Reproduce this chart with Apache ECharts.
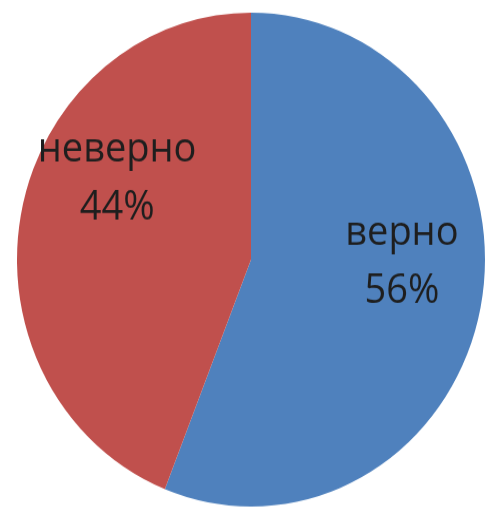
<!DOCTYPE html>
<html><head><meta charset="utf-8">
<script src="https://cdn.jsdelivr.net/npm/echarts@6/dist/echarts.min.js"></script>
<style>
html,body{margin:0;padding:0;background:#fff;overflow:hidden;}
#wrap{width:487px;height:510px;overflow:hidden;}
#c{width:487px;height:483px;transform:scaleY(1.0553);transform-origin:0 0;}
</style></head>
<body><div id="wrap"><div id="c"></div></div>
<script>
const categories = ['верно', 'неверно'];
const values = [56, 44];
const colors = ['#4F81BD', '#C0504D'];
const labelShift = [[33, -20], [-16, -54]];

const chart = echarts.init(document.getElementById('c'), null, {renderer: 'canvas'});
chart.setOption({
  animation: false,
  series: [{
    type: 'pie',
    center: [251, 246],
    radius: 234,
    startAngle: 90,
    clockwise: true,
    silent: true,
    data: categories.map((n, i) => ({name: n, value: values[i], itemStyle: {color: colors[i]}})),
    label: {
      position: 'inner',
      formatter: '{b}\n{d}%',
      fontFamily: 'Open Sans',
      fontSize: 38,
      lineHeight: 55,
      color: '#1e1e1e'
    },
    labelLine: {show: false},
    labelLayout: function (p) {
      const s = labelShift[p.dataIndex];
      return {dx: s[0], dy: s[1]};
    }
  }]
});
</script></body></html>
